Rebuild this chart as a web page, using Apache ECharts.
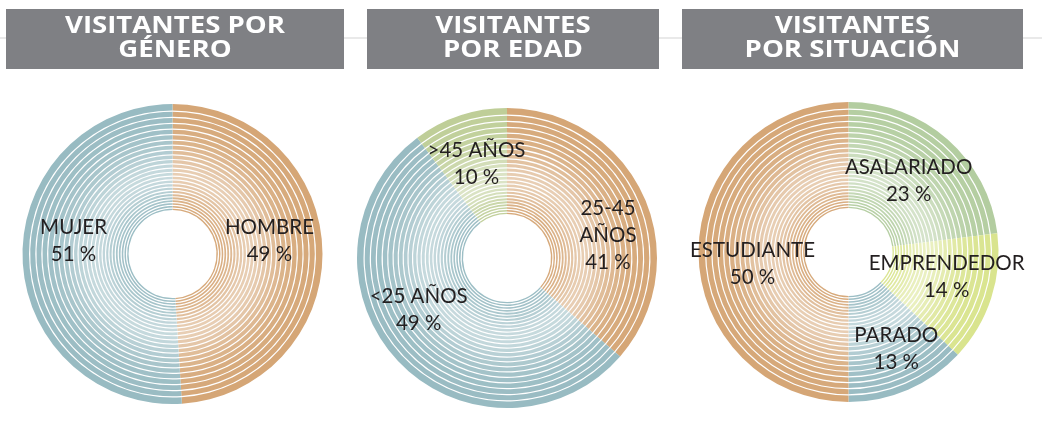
<!DOCTYPE html>
<html><head><meta charset="utf-8">
<script src="https://cdn.jsdelivr.net/npm/echarts@6/dist/echarts.min.js"></script>
<style>html,body{margin:0;padding:0;background:#fff}#c{width:1042px;height:438px}</style>
</head><body><div id="c"></div>
<script>
// ---- data ----
const generoCategories = ['HOMBRE', 'MUJER'];
const generoValues = [49, 51];
const generoPrinted = [49, 51];

const edadCategories = ['25-45\nAÑOS', '<25 AÑOS', '>45 AÑOS'];
const edadValues = [36.4, 53.4, 10.2];   // arc sizes as drawn in the picture
const edadPrinted = [41, 49, 10];        // percentages printed on the picture

const situacionCategories = ['ASALARIADO', 'EMPRENDEDOR', 'PARADO', 'ESTUDIANTE'];
const situacionValues = [23, 14, 13, 50];
const situacionPrinted = [23, 14, 13, 50];

const titleLines = [['VISITANTES POR', 'GÉNERO'], ['VISITANTES', 'POR EDAD'], ['VISITANTES', 'POR SITUACIÓN']];

// ---- style / layout ----
const ORANGE = '#D5A676', BLUE = '#98BBC2', GREEN2 = '#BFCE98', GREEN3 = '#B3CDA0', YELLOW = '#D9E48E';
const charts = [
  { cats: generoCategories, vals: generoValues, printed: generoPrinted, colors: [ORANGE, BLUE],
    center: [172.5, 254], offsets: [[-3, -10], [1, -16]] },
  { cats: edadCategories, vals: edadValues, printed: edadPrinted, colors: [ORANGE, BLUE, GREEN2],
    center: [507, 258], offsets: [[10, 19], [-15, -16], [1, 1]] },
  { cats: situacionCategories, vals: situacionValues, printed: situacionPrinted, colors: [GREEN3, YELLOW, BLUE, ORANGE],
    center: [848.5, 252], offsets: [[-6, 4], [3, -6], [8, 5], [4, 12]] }
];
const boxes = [[6, 9, 338, 60], [367, 9, 292, 60], [682, 9, 341, 60]];
const R_IN = 44, R_OUT = 150, RINGS = 25, GAP = 1.2;

function ringRadii(r0, R, n, gap) {
  const q = Math.pow(2.54, 1 / (n - 1));
  const p = []; let s = 0;
  for (let i = 0; i < n; i++) { p.push(Math.pow(q, i)); s += p[i]; }
  const k = (R - r0) / s; let r = r0; const out = [];
  for (let i = 0; i < n; i++) {
    const w = p[i] * k;
    out.push([r, i === n - 1 ? R : r + w - gap]);
    r += w;
  }
  return out;
}
function mix(hex, t) {
  const c = [1, 3, 5].map(i => parseInt(hex.substr(i, 2), 16));
  const m = c.map(v => Math.round(v + (255 - v) * t));
  return 'rgb(' + m.join(',') + ')';
}

const series = [];
const radii = ringRadii(R_IN, R_OUT, RINGS, GAP);
charts.forEach(ch => {
  radii.forEach((rr, i) => {
    const t = (i + 0.5) / RINGS;
    const k = i === RINGS - 1 ? 0 : 0.45 * Math.exp(-Math.pow((t - 0.45) / 0.28, 2));
    series.push({
      type: 'pie', center: ch.center, radius: rr, startAngle: 90, clockwise: true,
      silent: true, animation: false, avoidLabelOverlap: false,
      label: { show: false }, labelLine: { show: false },
      data: ch.cats.map((n, j) => ({ name: n, value: ch.vals[j],
        itemStyle: { color: mix(ch.colors[j], k), borderWidth: 0 } }))
    });
  });
  series.push({
    type: 'pie', center: ch.center, radius: [R_IN, R_OUT], startAngle: 90, clockwise: true,
    silent: true, animation: false, avoidLabelOverlap: false, z: 5,
    itemStyle: { color: 'rgba(0,0,0,0)', borderWidth: 0 },
    label: {
      show: true, position: 'inside', color: '#231f20', fontFamily: 'Lato', fontSize: 20.5,
      lineHeight: 27, textBorderWidth: 0,
      formatter: p => p.name + '\n' + ch.printed[p.dataIndex] + ' %'
    },
    labelLine: { show: false },
    labelLayout: p => ({ dx: ch.offsets[p.dataIndex][0], dy: ch.offsets[p.dataIndex][1] }),
    data: ch.cats.map((n, j) => ({ name: n, value: ch.vals[j] }))
  });
});

// titles
const ctx = document.createElement('canvas').getContext('2d');
const TFONT = 'bold 23px "Open Sans"';
ctx.font = TFONT;
const scaleX = 220 / ctx.measureText('VISITANTES POR').width;
const graphic = [{ type: 'line', z: 0, shape: { x1: 0, y1: 38, x2: 1042, y2: 38 }, style: { stroke: '#e2e2e2', lineWidth: 1.5 } }];
boxes.forEach((b, i) => {
  graphic.push({ type: 'rect', z: 1, shape: { x: b[0], y: b[1], width: b[2], height: b[3] }, style: { fill: '#7f8084' } });
  titleLines[i].forEach((line, j) => {
    graphic.push({ type: 'text', z: 2, x: b[0] + b[2] / 2, y: 26.5 + j * 24, scaleX: scaleX,
      style: { text: line, font: TFONT, fill: '#ffffff', align: 'center', verticalAlign: 'middle' } });
  });
});

const chart = echarts.init(document.getElementById('c'), null, { renderer: 'canvas' });
chart.setOption({ animation: false, backgroundColor: '#fff', graphic: graphic, series: series });
</script></body></html>
